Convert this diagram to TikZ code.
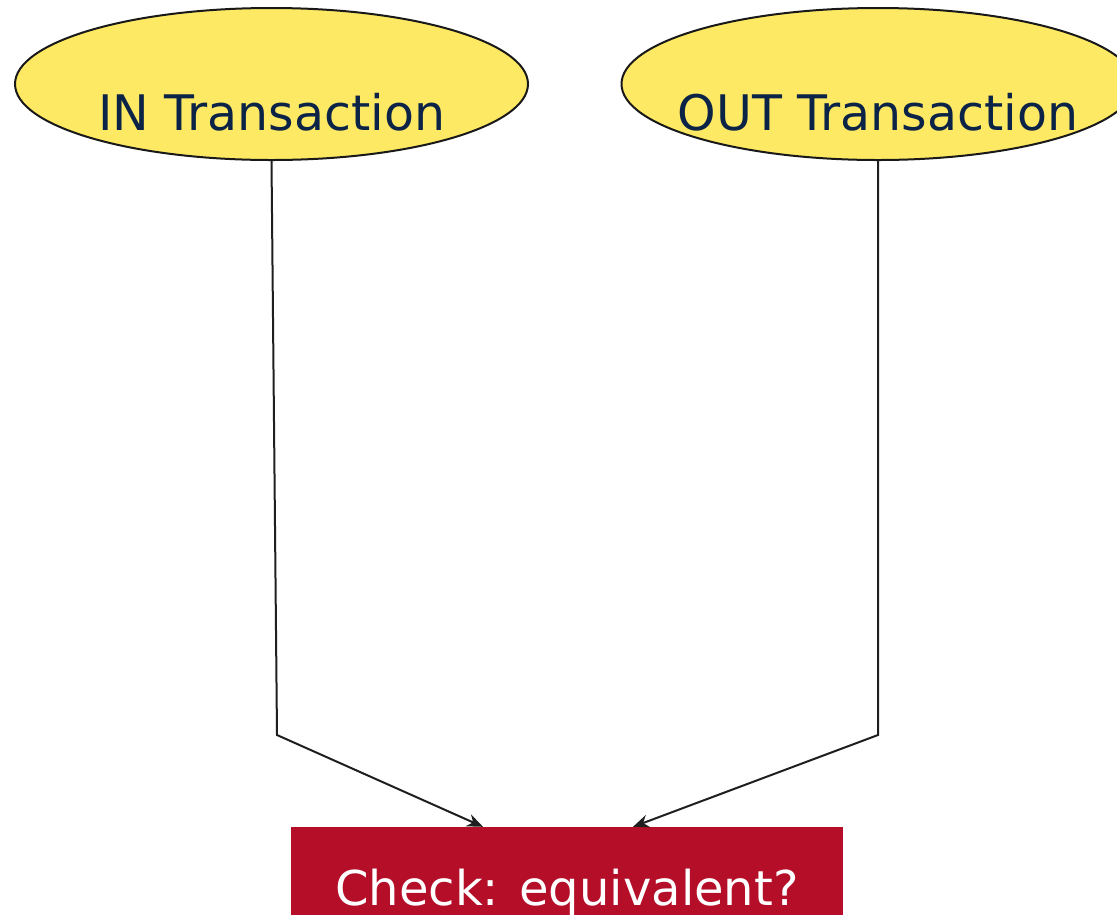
\documentclass[tikz,border=0pt]{standalone}
\usepackage{fontspec}
\setmainfont{DejaVu Sans}
\usepackage{tikz}
\usetikzlibrary{positioning,arrows.meta,shapes.geometric}
\usepackage{xcolor}
\definecolor{txnyellow}{HTML}{FDE963}
\definecolor{checkred}{HTML}{B50E28}
\definecolor{txnnavy}{HTML}{0B2346}

\begin{document}
\begin{tikzpicture}[
    x=1pt, y=-1pt,
    txn/.style={ellipse, draw=black!90, line width=2pt, fill=txnyellow, minimum width=513pt, minimum height=152pt, inner sep=0pt},
    txntext/.style={text=txnnavy, text height=36pt, text depth=0pt, font=\fontsize{49}{58}\selectfont},
    check/.style={rectangle, fill=checkred, minimum width=552pt, minimum height=120pt, text=white, text height=36pt, text depth=0pt, font=\fontsize{48}{57}\selectfont},
    flow/.style={-{Stealth[length=16pt, width=13pt]}, line width=2pt, draw=black!88},
  ]
    \useasboundingbox (0,0) rectangle (1117,914);
    \node[txn, label={[txntext, yshift=-28pt]center:IN Transaction}] (in) at (271.5,84) {};
    \node[txn, label={[txntext, yshift=-28pt]center:OUT Transaction}] (out) at (878,84) {};
    \node[check] (check) at (567,887) {Check: equivalent?};

    \coordinate (inbend) at (277,735);
    \coordinate (outbend) at (878,735);
    \draw[flow] (in.south) -- (inbend) -- (check.north -| 483,0);
    \draw[flow] (out.south) -- (outbend) -- (check.north -| 633,0);
  \end{tikzpicture}
\end{document}
